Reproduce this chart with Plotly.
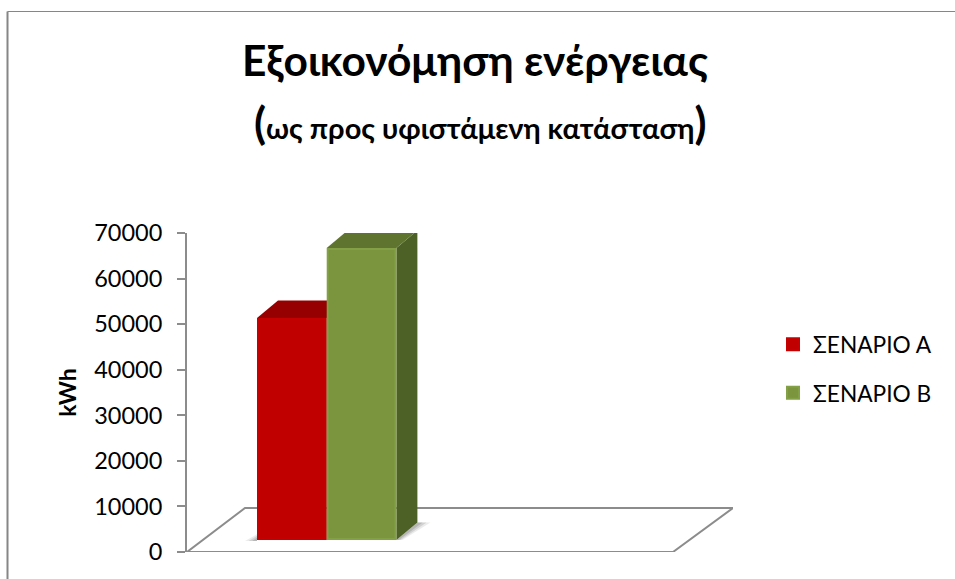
import plotly.graph_objects as go

series_names = ["ΣΕΝΑΡΙΟ Α", "ΣΕΝΑΡΙΟ Β"]
series_values = [48700, 64100]
tick_values = [0, 10000, 20000, 30000, 40000, 50000, 60000, 70000]
title_text = "Εξοικονόμηση ενέργειας"
subtitle_text = "ως προς υφιστάμενη κατάσταση"
y_title = "kWh"

front_colors = ["#C00000", "#7A953E"]
edge_colors = ["#C60000", "#84A046"]
top_colors = ["#970000", "#5F752F"]
side_colors = ["#7F0000", "#4D6126"]

W, H = 955, 579
L, R, T, B = 187, 733, 233, 552
FONT = "Lato, 'Noto Sans', sans-serif"
AXIS = "#8C8C8C"

x_unit = 486.0                    # px per category
xmax = (R - L) / x_unit
ymax = 70000
y_px = (B - T) / ymax

bar_w = 69.7 / x_unit
bar_left = [(257 - L) / x_unit, (326.7 - L) / x_unit]
bar_base = 12 / y_px
dep_x, dep_y = 21 / x_unit, 17.5 / y_px
floor_x, floor_y = 58 / x_unit, 44 / y_px
edge_w = 2

fig = go.Figure()

# floor outline
fig.add_trace(go.Scatter(
    x=[0, floor_x, xmax, 1, 0], y=[0, floor_y, floor_y, 0, 0], mode="lines",
    line=dict(color=AXIS, width=2), showlegend=False, hoverinfo="skip"))

# soft floor shadows
s0 = bar_left[0]
s1 = bar_left[1] + bar_w
for k, alpha in [(1.0, 0.10), (0.7, 0.14), (0.4, 0.18)]:
    fig.add_trace(go.Scatter(
        x=[s0 - 12 * k / x_unit, s0, s0, s0 - 3 * k / x_unit],
        y=[bar_base - 1 / y_px, bar_base - 1 / y_px, bar_base + 6 * k / y_px, bar_base + 4 * k / y_px],
        mode="lines", fill="toself", fillcolor=f"rgba(60,60,60,{alpha})", line=dict(width=0),
        showlegend=False, hoverinfo="skip"))
    fig.add_trace(go.Scatter(
        x=[s1, s1 + dep_x, s1 + dep_x + 13 * k / x_unit, s1 + 6 * k / x_unit],
        y=[bar_base, bar_base + dep_y, bar_base + dep_y, bar_base],
        mode="lines", fill="toself", fillcolor=f"rgba(60,60,60,{alpha})", line=dict(width=0),
        showlegend=False, hoverinfo="skip"))

# depth faces of each bar
for i, v in enumerate(series_values):
    x0, x1 = bar_left[i], bar_left[i] + bar_w
    top = bar_base + v
    fig.add_trace(go.Scatter(
        x=[x1, x1 + dep_x, x1 + dep_x, x1, x1],
        y=[bar_base, bar_base + dep_y, top + dep_y, top, bar_base],
        mode="lines", fill="toself", fillcolor=side_colors[i],
        line=dict(width=0), showlegend=False, hoverinfo="skip"))
    fig.add_trace(go.Scatter(
        x=[x0, x0 + dep_x, x1 + dep_x, x1, x0],
        y=[top, top + dep_y, top + dep_y, top, top],
        mode="lines", fill="toself", fillcolor=top_colors[i],
        line=dict(width=0), showlegend=False, hoverinfo="skip"))

# front faces, on an overlaying axis pair so they sit above the depth faces
for i, v in enumerate(series_values):
    fig.add_trace(go.Bar(
        x=[bar_left[i] + bar_w / 2], y=[v - edge_w / y_px], base=[bar_base + edge_w / 2 / y_px],
        width=[bar_w - edge_w / x_unit],
        name=series_names[i], xaxis="x2", yaxis="y2", legendgroup=series_names[i],
        marker=dict(color=front_colors[i], line=dict(color=edge_colors[i], width=edge_w))))

def px(x):
    return (x - L) / (R - L)

def py(y):
    return (B - y) / (B - T)

frame = dict(type="line", xref="paper", yref="paper", line=dict(color="#868686", width=1))

fig.update_layout(
    width=W, height=H, autosize=False,
    margin=dict(l=L, r=W - R, t=T, b=H - B, pad=0),
    paper_bgcolor="white", plot_bgcolor="white",
    font=dict(family=FONT, color="black", size=23),
    barmode="overlay",
    showlegend=True,
    legend=dict(x=px(773), y=py(323), xanchor="left", yanchor="top",
                font=dict(size=22.7, family=FONT), tracegroupgap=16,
                bgcolor="rgba(0,0,0,0)", itemclick=False, itemdoubleclick=False),
    xaxis=dict(range=[0, xmax], visible=False, fixedrange=True),
    yaxis=dict(range=[0, ymax], tickmode="array", tickvals=tick_values,
               ticktext=[str(t) for t in tick_values], showgrid=False, zeroline=False,
               showline=True, linecolor=AXIS, linewidth=2, ticks="outside", ticklen=8,
               tickcolor=AXIS, tickwidth=2, ticklabelstandoff=10,
               tickfont=dict(size=23.5, family=FONT), fixedrange=True,
               title=dict(text=f"<b>{y_title}</b>", font=dict(size=23, family=FONT), standoff=11)),
    xaxis2=dict(range=[0, xmax], overlaying="x", visible=False, fixedrange=True),
    yaxis2=dict(range=[0, ymax], overlaying="y", visible=False, fixedrange=True),
    annotations=[
        dict(text=f"<b>{title_text}</b>", xref="paper", yref="paper", x=px(475), y=py(59),
             xanchor="center", yanchor="middle", showarrow=False,
             font=dict(size=42.5, family=FONT)),
        dict(text=f"<b><span style='font-size:44px'>(</span>{subtitle_text}<span style='font-size:44px'>)</span></b>",
             xref="paper", yref="paper", x=px(480), y=py(122),
             xanchor="center", yanchor="middle", showarrow=False,
             font=dict(size=29, family=FONT)),
    ],
    shapes=[
        dict(frame, x0=px(7.5), x1=px(W), y0=py(11.5), y1=py(11.5)),
        dict(frame, x0=px(7.5), x1=px(7.5), y0=py(11.5), y1=py(H), line=dict(color="#868686", width=2)),
    ],
)

fig.write_html("out.html", post_script="document.body.style.margin='0';",
               config={"displayModeBar": False})
